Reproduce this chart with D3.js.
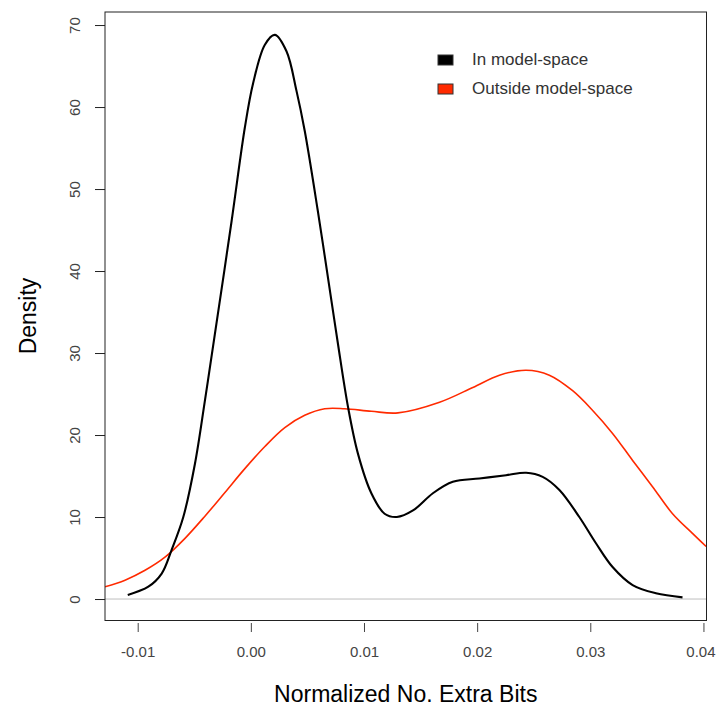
<!DOCTYPE html>
<html>
<head>
<meta charset="utf-8">
<script src="https://cdn.jsdelivr.net/npm/d3@7"></script>
<style>
  body { margin: 0; background: #fff; }
  text { font-family: "Liberation Sans", Arial, sans-serif; }
</style>
</head>
<body>
<div id="chart"></div>
<script>
// density estimates: [x, density]
var inModel = [
  [-0.01088, 0.5], [-0.00906, 1.5], [-0.00788, 3.1], [-0.0070, 6.0], [-0.00597, 10.0],
  [-0.00494, 16.5], [-0.00406, 24.2], [-0.00318, 32.3], [-0.0017, 46.1],
  [-0.00053, 57.5], [0.0002, 62.9], [0.00124, 67.6], [0.00212, 68.8],
  [0.00315, 66.8], [0.00403, 62.0], [0.00476, 57.1], [0.0059, 47.5], [0.00712, 36.4],
  [0.0077, 31.1], [0.00859, 23.4], [0.00947, 17.7], [0.01065, 12.9], [0.01182, 10.4],
  [0.0129, 10.0], [0.01433, 10.8], [0.01609, 12.9], [0.01785, 14.3], [0.0202, 14.7],
  [0.02256, 15.1], [0.02433, 15.4], [0.02579, 14.9], [0.02727, 13.3], [0.02903, 10.0],
  [0.0305, 6.8], [0.03197, 3.9], [0.03374, 1.7], [0.0358, 0.7], [0.03815, 0.2]
];
var outsideModel = [
  [-0.01289, 1.5], [-0.01112, 2.3], [-0.00935, 3.5], [-0.00759, 5.1], [-0.00582, 7.4],
  [-0.00406, 10.1], [-0.00229, 13.0], [-0.00053, 15.9], [0.00124, 18.6], [0.003, 20.9],
  [0.00476, 22.4], [0.00653, 23.2], [0.00829, 23.2], [0.01065, 22.9], [0.0130, 22.7],
  [0.01668, 24.0], [0.01962, 25.8], [0.02197, 27.3], [0.02433, 27.9], [0.02638, 27.3],
  [0.02844, 25.4], [0.03021, 23.0], [0.03197, 20.2], [0.03374, 16.9], [0.0355, 13.7],
  [0.03727, 10.4], [0.03903, 8.0], [0.04024, 6.4]
];
var xTicks = [-0.01, 0, 0.01, 0.02, 0.03, 0.04];
var yTicks = [0, 10, 20, 30, 40, 50, 60, 70];
var seriesNames = ["In model-space", "Outside model-space"];
var seriesColors = ["#000000", "#ff2a00"];

var W = 717, H = 706;
var L = 105, R = 706.5, T = 12, B = 620.5;

var svg = d3.select("#chart").append("svg").attr("width", W).attr("height", H);

var x = d3.scaleLinear().domain([-0.01289, 0.04027]).range([L, R]);
var y = d3.scaleLinear().domain([-2.62, 71.59]).range([B, T]);

svg.append("clipPath").attr("id", "clip")
  .append("rect").attr("x", L).attr("y", T).attr("width", R - L).attr("height", B - T);

// gray zero line
svg.append("line")
  .attr("x1", L).attr("x2", R).attr("y1", y(0)).attr("y2", y(0))
  .attr("stroke", "#bebebe").attr("stroke-width", 1);

var line = d3.line()
  .x(function(d) { return x(d[0]); })
  .y(function(d) { return y(d[1]); })
  .curve(d3.curveCatmullRom.alpha(0.5));

var plotG = svg.append("g").attr("clip-path", "url(#clip)");
plotG.append("path").datum(outsideModel)
  .attr("d", line).attr("fill", "none")
  .attr("stroke", seriesColors[1]).attr("stroke-width", 1.6);
plotG.append("path").datum(inModel)
  .attr("d", line).attr("fill", "none")
  .attr("stroke", seriesColors[0]).attr("stroke-width", 2.1);

// box
svg.append("rect")
  .attr("x", L).attr("y", T).attr("width", R - L).attr("height", B - T)
  .attr("fill", "none").attr("stroke", "#222").attr("stroke-width", 1);

// x axis
var xAxis = d3.axisBottom(x).tickValues(xTicks).tickSize(9).tickPadding(14)
  .tickFormat(d3.format(".2f"));
var gx = svg.append("g").attr("transform", "translate(0," + (B + 2.5) + ")").call(xAxis);
gx.select(".domain").remove();
gx.selectAll(".tick line").attr("stroke", "#444");
gx.selectAll(".tick text").attr("font-size", 15).attr("fill", "#444")
  .attr("font-family", "Liberation Sans, Arial, sans-serif")
  .text(function(d) { return d3.format(".2f")(d).replace("−", "-"); })
  .attr("dx", function(d, i) { return i === xTicks.length - 1 ? -3 : 0; });

// y axis
var yAxis = d3.axisLeft(y).tickValues(yTicks).tickSize(10).tickPadding(0);
var gy = svg.append("g").attr("transform", "translate(" + L + ",0)").call(yAxis);
gy.select(".domain").remove();
gy.selectAll(".tick line").attr("stroke", "#222");
gy.selectAll(".tick text").remove();
gy.selectAll(".tick").append("text")
  .attr("transform", "translate(-25,0) rotate(-90)")
  .attr("text-anchor", "middle")
  .attr("fill", "#444").attr("font-size", 15)
  .attr("font-family", "Liberation Sans, Arial, sans-serif")
  .text(function(d) { return d; });

// axis titles
svg.append("text")
  .attr("x", (L + R) / 2).attr("y", 702)
  .attr("text-anchor", "middle").attr("font-size", 23).attr("fill", "#000")
  .text("Normalized No. Extra Bits");
svg.append("text")
  .attr("transform", "translate(36," + 316 + ") rotate(-90)")
  .attr("text-anchor", "middle").attr("font-size", 23).attr("fill", "#000")
  .text("Density");

// legend
var leg = svg.append("g").attr("transform", "translate(438,55)");
var item = leg.selectAll("g").data(seriesNames).enter().append("g")
  .attr("transform", function(d, i) { return "translate(0," + (i * 29) + ")"; });
item.append("rect").attr("width", 15).attr("height", 10)
  .attr("fill", function(d, i) { return seriesColors[i]; })
  .attr("stroke", "#333").attr("stroke-width", 1);
item.append("text").attr("x", 34).attr("y", 9.5)
  .attr("font-size", 17).attr("fill", "#333")
  .text(function(d) { return d; });
</script>
</body>
</html>
